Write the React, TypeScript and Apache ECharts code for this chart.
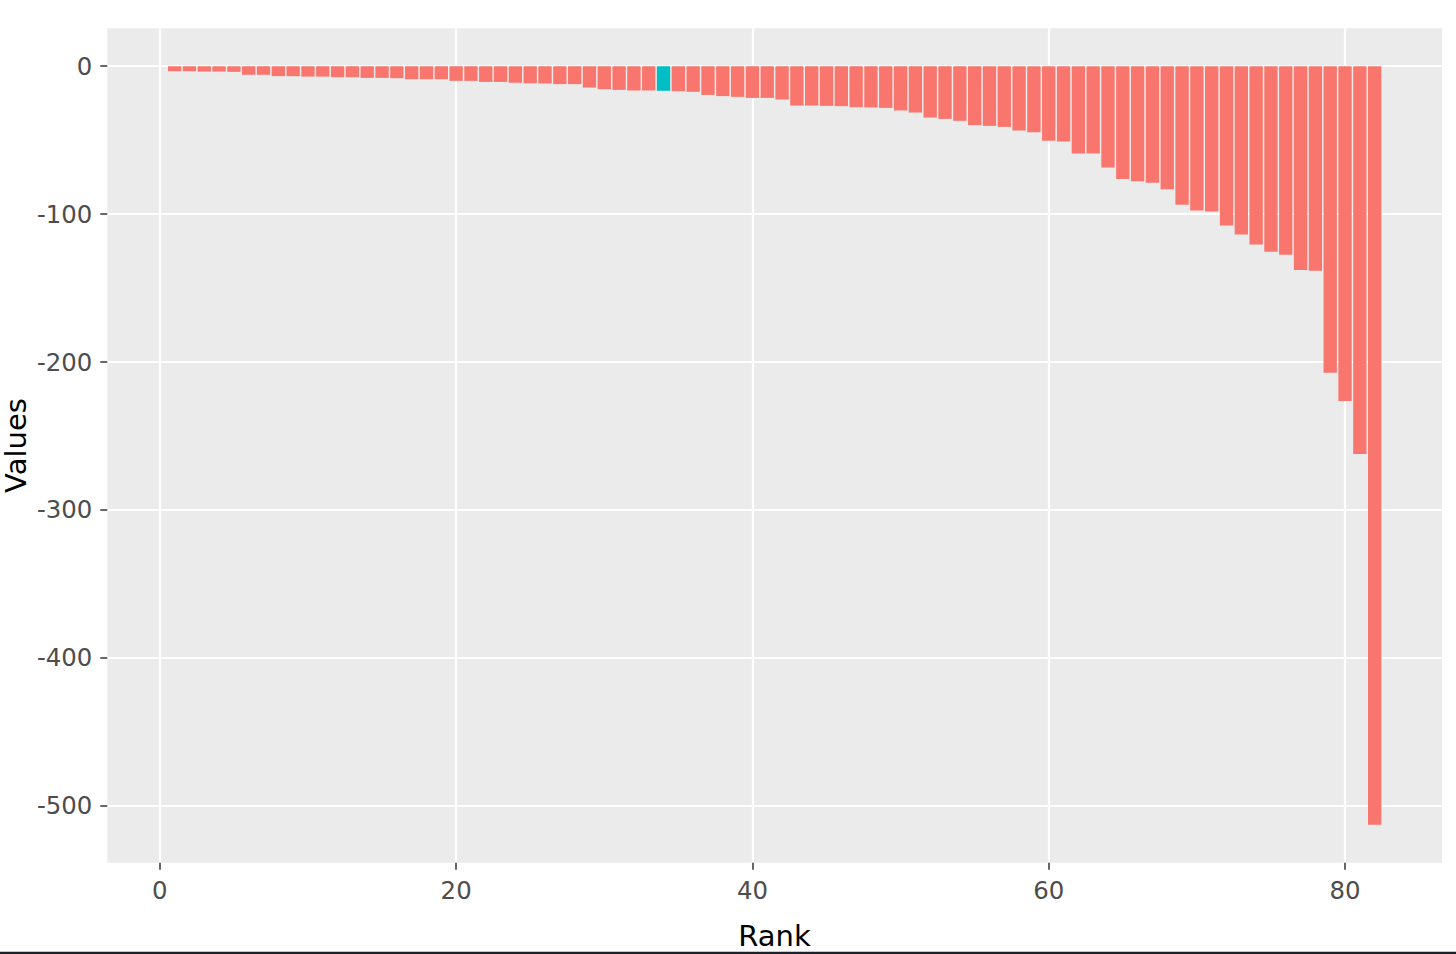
import React, { useEffect, useRef } from "react";
import * as echarts from "echarts";

const ranks: number[] = Array.from({ length: 82 }, (_, i) => i + 1);
const values: number[] = [
  -3.4, -3.4, -3.6, -3.6, -3.8, -5.8, -5.8, -6.7, -6.7, -7.0,
  -7.0, -7.4, -7.4, -7.9, -7.9, -8.1, -8.8, -8.8, -8.8, -9.9,
  -9.9, -10.6, -10.6, -11.2, -11.5, -11.7, -12.1, -12.1, -14.4, -15.5,
  -16.0, -16.4, -16.4, -16.6, -16.9, -17.3, -19.4, -20.2, -20.7, -21.4,
  -21.4, -22.5, -26.6, -26.6, -26.8, -27.0, -27.7, -27.9, -28.2, -29.9,
  -31.3, -34.7, -35.6, -36.9, -39.8, -40.3, -41.0, -43.5, -44.6, -50.4,
  -50.9, -59.0, -59.0, -68.5, -76.3, -77.7, -78.8, -83.1, -93.7, -97.5,
  -98.2, -107.6, -113.7, -120.5, -125.4, -127.5, -137.8, -138.3, -207.2, -226.4,
  -262.2, -512.8,
];
const highlightRank = 34;
const xTicks: number[] = [0, 20, 40, 60, 80];
const yTicks: number[] = [0, -100, -200, -300, -400, -500];
const xTitle = "Rank";
const yTitle = "Values";

const BASE = "#F8766D";
const HIGHLIGHT = "#00BFC4";

export default function App() {
  const ref = useRef<HTMLDivElement>(null);

  useEffect(() => {
    if (!ref.current) return;
    const chart = echarts.init(ref.current, null, { renderer: "svg" });

    const barHalf = 0.45;
    const xLo = Math.min(...ranks) - barHalf;
    const xHi = Math.max(...ranks) + barHalf;
    const xPad = (xHi - xLo) * 0.05;
    const yLo = Math.min(0, ...values);
    const yHi = Math.max(0, ...values);
    const yPad = (yHi - yLo) * 0.05;

    const font = "DejaVu Sans";

    chart.setOption({
      animation: false,
      backgroundColor: "#ffffff",
      grid: {
        left: 107.3,
        right: 14,
        top: 28.3,
        bottom: 91.3,
        show: true,
        backgroundColor: "#EBEBEB",
        borderWidth: 0,
      },
      xAxis: {
        type: "value",
        position: "bottom",
        min: xLo - xPad,
        max: xHi + xPad,
        axisLine: { show: false, onZero: false },
        axisTick: {
          show: true,
          length: 7,
          lineStyle: { color: "#333333", width: 1.5 },
          customValues: xTicks,
        },
        axisLabel: {
          customValues: xTicks,
          color: "#4D4D4D",
          fontFamily: font,
          fontSize: 24.4,
          margin: 16,
        },
        splitLine: { show: true, lineStyle: { color: "#FFFFFF", width: 2.2 } },
      },
      yAxis: {
        type: "value",
        position: "left",
        min: yLo - yPad,
        max: yHi + yPad,
        axisLine: { show: false, onZero: false },
        axisTick: {
          show: true,
          length: 7,
          lineStyle: { color: "#333333", width: 1.5 },
          customValues: yTicks,
        },
        axisLabel: {
          customValues: yTicks,
          color: "#4D4D4D",
          fontFamily: font,
          fontSize: 24.4,
          margin: 15,
        },
        splitLine: { show: true, lineStyle: { color: "#FFFFFF", width: 2.2 } },
      },
      series: [
        {
          type: "bar",
          barWidth: "90%",
          data: ranks.map((r, i) => ({
            value: [r, values[i]],
            itemStyle: { color: r === highlightRank ? HIGHLIGHT : BASE },
          })),
          itemStyle: { color: BASE },
        },
      ],
      graphic: [
        {
          type: "text",
          x: 774.5,
          y: 935.5,
          style: {
            text: xTitle,
            fontFamily: font,
            fontSize: 29,
            fill: "#000000",
            textAlign: "center",
            textVerticalAlign: "middle",
          },
        },
        {
          type: "text",
          x: 16,
          y: 445.5,
          rotation: Math.PI / 2,
          style: {
            text: yTitle,
            fontFamily: font,
            fontSize: 29,
            fill: "#000000",
            textAlign: "center",
            textVerticalAlign: "middle",
          },
        },
        {
          type: "rect",
          shape: { x: 0, y: 951.7, width: 1456, height: 2.3 },
          style: { fill: "#1c2029" },
        },
      ],
    });

    return () => chart.dispose();
  }, []);

  return (
    <div
      ref={ref}
      style={{ position: "fixed", left: 0, top: 0, width: 1456, height: 954 }}
    />
  );
}
